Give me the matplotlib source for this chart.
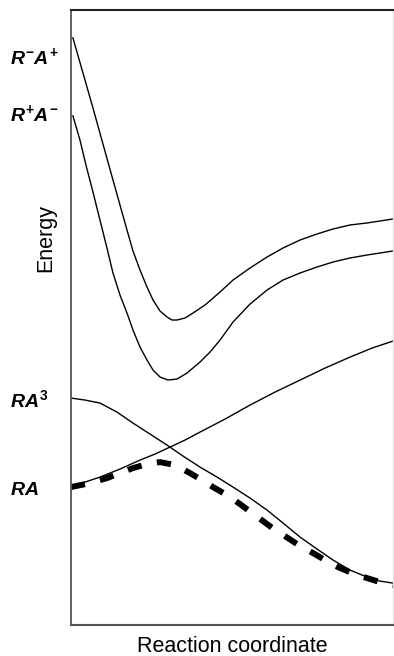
import matplotlib
matplotlib.use('Agg')
import matplotlib.pyplot as plt

# reaction coordinate (0..322) and energy (0..615), arbitrary units
x_rmap = [2, 12, 22, 32, 42, 49, 56, 62, 69, 76, 82, 89, 96, 101, 106, 114, 122, 134, 149,
          162, 179, 196, 212, 229, 246, 262, 279, 296, 309, 322]
e_rmap = [587, 552, 517, 481, 445, 420, 395, 374, 355, 338, 325, 314, 308, 305, 305, 307, 312,
          320, 333, 345, 357, 368, 377, 385, 391, 396, 400, 402, 404, 406]

x_rpam = [2, 9, 15, 22, 29, 36, 42, 49, 56, 62, 69, 76, 82, 89, 97, 106, 116, 129, 139, 149,
          162, 179, 196, 212, 229, 246, 262, 279, 296, 309, 322]
e_rpam = [509, 485, 460, 433, 405, 377, 352, 330, 312, 295, 278, 265, 255, 248, 245, 246, 252,
          263, 273, 285, 303, 321, 335, 345, 352, 358, 363, 367, 370, 372, 374]

x_ra = [0, 14, 29, 49, 69, 84, 99, 114, 129, 154, 179, 204, 229, 254, 279, 301, 322]
e_ra = [138, 143, 148, 156, 165, 171, 178, 185, 193, 206, 220, 233, 245, 257, 268, 277, 284]

x_ra3 = [0, 14, 29, 46, 62, 79, 96, 112, 129, 146, 162, 179, 196, 212, 229, 246, 262, 279,
         296, 309, 322]
e_ra3 = [227, 225, 222, 213, 202, 191, 180, 169, 158, 148, 138, 127, 115, 102, 88, 76, 65,
         55, 48, 44, 42]

x_ground = [0, 19, 36, 49, 62, 76, 89, 104, 119, 129, 142, 156, 169, 181, 192, 204, 217, 229,
            242, 254, 267, 281, 296, 309, 322]
e_ground = [138, 142, 147, 152, 157, 161, 163, 160, 152, 146, 138, 130, 121, 112, 104, 95, 87,
            79, 72, 65, 58, 52, 47, 43, 40]

state_labels = [r'$R^{-}A^{+}$', r'$R^{+}A^{-}$', r'$RA^{3}$', r'$RA$']
label_y = [568, 511, 225, 135]

plt.rcParams['font.family'] = ['Liberation Sans', 'DejaVu Sans']
plt.rcParams['mathtext.fontset'] = 'custom'
plt.rcParams['mathtext.it'] = 'Liberation Sans:italic:bold'
plt.rcParams['mathtext.rm'] = 'Liberation Sans:bold'
plt.rcParams['mathtext.default'] = 'it'

fig = plt.figure(figsize=(3.94, 6.56), dpi=100)
ax = fig.add_axes([0.180, 0.047, 0.818, 0.938])

ax.plot(x_ground, e_ground, color='black', linewidth=4.3, linestyle=(0, (2.4, 2.6)),
        dash_capstyle='butt', solid_capstyle='butt')
for xs, es in [(x_rmap, e_rmap), (x_rpam, e_rpam), (x_ra, e_ra), (x_ra3, e_ra3)]:
    ax.plot(xs, es, color='black', linewidth=1.0)

ax.set_xlim(0, 322)
ax.set_ylim(0, 615)
ax.set_xticks([])
ax.set_yticks([])

ax.spines['left'].set_color('#555555')
ax.spines['left'].set_linewidth(1.3)
ax.spines['top'].set_color('#222222')
ax.spines['top'].set_linewidth(1.5)
ax.spines['bottom'].set_color('#555555')
ax.spines['bottom'].set_linewidth(1.5)
ax.spines['right'].set_color('#e6e6e6')
ax.spines['right'].set_linewidth(1.0)

for lab, yv in zip(state_labels, label_y):
    ax.text(-0.19, yv, lab, transform=ax.get_yaxis_transform(), ha='left', va='center',
            fontsize=14, color='black')

ax.set_xlabel('Reaction coordinate', fontsize=15.5, labelpad=8)
ax.set_ylabel('Energy', fontsize=15.5, labelpad=8)
ax.yaxis.set_label_coords(-0.045, 0.63)

fig.savefig('out.png', dpi=100)
